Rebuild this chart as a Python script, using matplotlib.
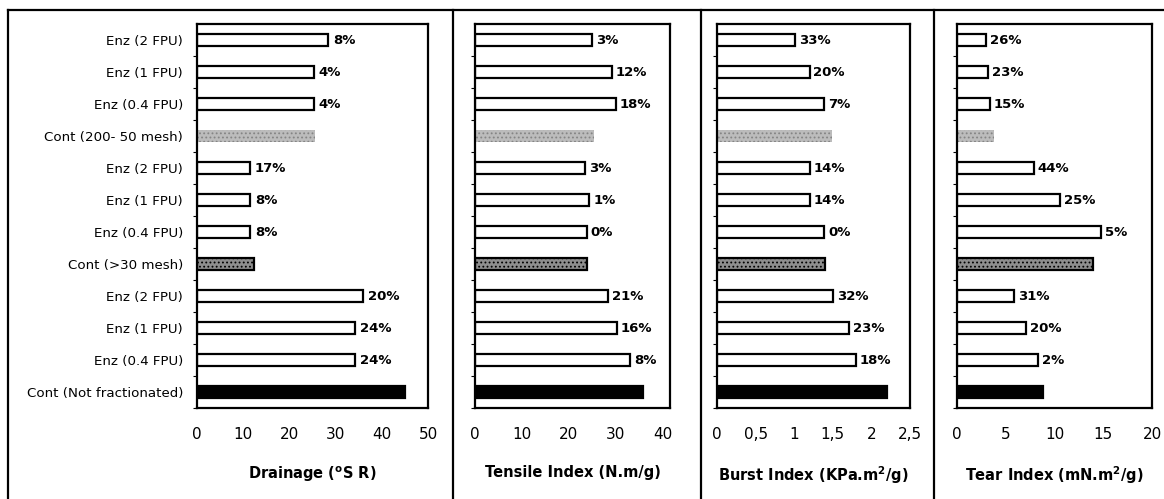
import numpy as np
import matplotlib
matplotlib.use("Agg")
import matplotlib.pyplot as plt
from matplotlib.lines import Line2D

plt.rcParams['font.family'] = ['DejaVu Sans']

# categories, top to bottom
categories = ["Enz (2 FPU)", "Enz (1 FPU)", "Enz (0.4 FPU)", "Cont (200- 50 mesh)",
              "Enz (2 FPU)", "Enz (1 FPU)", "Enz (0.4 FPU)", "Cont (>30 mesh)",
              "Enz (2 FPU)", "Enz (1 FPU)", "Enz (0.4 FPU)", "Cont (Not fractionated)"]

drainage = [28.4, 25.3, 25.3, 25.5, 11.5, 11.5, 11.5, 12.3, 36.0, 34.3, 34.3, 45.0]
drainage_pct = ["8%", "4%", "4%", "", "17%", "8%", "8%", "", "20%", "24%", "24%", ""]

tensile = [24.9, 29.1, 30.0, 25.3, 23.4, 24.3, 23.8, 23.8, 28.3, 30.2, 33.0, 35.7]
tensile_pct = ["3%", "12%", "18%", "", "3%", "1%", "0%", "", "21%", "16%", "8%", ""]

burst = [1.01, 1.20, 1.39, 1.49, 1.20, 1.20, 1.39, 1.40, 1.50, 1.71, 1.80, 2.20]
burst_pct = ["33%", "20%", "7%", "", "14%", "14%", "0%", "", "32%", "23%", "18%", ""]

tear = [2.97, 3.15, 3.4, 3.8, 7.9, 10.6, 14.8, 13.9, 5.85, 7.05, 8.3, 8.8]
tear_pct = ["26%", "23%", "15%", "", "44%", "25%", "5%", "", "31%", "20%", "2%", ""]

xticks_drain = [0, 10, 20, 30, 40, 50]
xticks_tens = [0, 10, 20, 30, 40]
xticks_burst = [0, 0.5, 1, 1.5, 2, 2.5]
xticks_burst_lbl = ["0", "0,5", "1", "1,5", "2", "2,5"]
xticks_tear = [0, 5, 10, 15, 20]

W, H = 1164, 499
fig = plt.figure(figsize=(W / 100, H / 100), dpi=100)

# bar fills for the three controls, the rest are open bars
# (face, edge, line width, hatch)
fills = {"Cont (200- 50 mesh)": ("#bcbcbc", "#858585", 0, "...."),
         "Cont (>30 mesh)": ("#8e8e8e", "black", 1.6, "...."),
         "Cont (Not fractionated)": ("black", "black", 1.6, None)}

plt.rcParams['hatch.linewidth'] = 0.8


def px_axes(x0, x1, y0=24, y1=408):
    return fig.add_axes([x0 / W, (H - y1) / H, (x1 - x0) / W, (y1 - y0) / H])


def panel(ax, values, pcts, xmax, ticks, ticklabels, xlabel, show_cats=False):
    y = np.arange(len(categories))
    for i, (cat, v) in enumerate(zip(categories, values)):
        face, edge, lw, hatch = fills.get(cat, ("white", "black", 1.6, None))
        ax.barh(y[i], v, height=0.4, color=face, edgecolor=edge, linewidth=lw,
                hatch=hatch)
        if pcts[i]:
            ax.text(v + xmax * 0.02, y[i], pcts[i], va="center", ha="left",
                    fontsize=9.5, fontweight="bold")
    ax.set_ylim(len(categories) - 0.5, -0.5)
    ax.set_xlim(0, xmax)
    ax.set_xticks(ticks)
    ax.set_xticklabels(ticklabels, fontsize=11)
    ax.tick_params(axis="x", length=0, pad=14)
    # small ticks between categories on the value axis
    ax.set_yticks(y + 0.5, minor=False)
    ax.set_yticklabels([])
    ax.tick_params(axis="y", length=3, direction="out", width=0.8)
    if show_cats:
        ax.set_yticks(y, minor=True)
        ax.set_yticklabels(categories, minor=True, fontsize=9.6)
        ax.tick_params(axis="y", which="minor", length=0, pad=10)
    for s in ax.spines.values():
        s.set_linewidth(1.6)
    ax.set_xlabel(xlabel, fontsize=10.5, fontweight="bold", labelpad=16)


ax1 = px_axes(197, 428)
panel(ax1, drainage, drainage_pct, 50, xticks_drain, [str(t) for t in xticks_drain],
      r"Drainage ($^{\mathregular{o}}$S R)", show_cats=True)

ax2 = px_axes(475, 670)
panel(ax2, tensile, tensile_pct, 41.5, xticks_tens, [str(t) for t in xticks_tens],
      "Tensile Index (N.m/g)")

ax3 = px_axes(717, 910)
panel(ax3, burst, burst_pct, 2.5, xticks_burst, xticks_burst_lbl,
      r"Burst Index (KPa.m$^{\mathregular{2}}$/g)")

ax4 = px_axes(957, 1152)
panel(ax4, tear, tear_pct, 20, xticks_tear, [str(t) for t in xticks_tear],
      r"Tear Index (mN.m$^{\mathregular{2}}$/g)")

# outer frame and panel dividers
for x in [8, 453, 701, 934]:
    fig.add_artist(Line2D([x / W, x / W], [0, (H - 10) / H], color="black", lw=1.6))
fig.add_artist(Line2D([8 / W, 1], [(H - 10) / H, (H - 10) / H], color="black", lw=1.6))

fig.savefig("out.png", dpi=100)
